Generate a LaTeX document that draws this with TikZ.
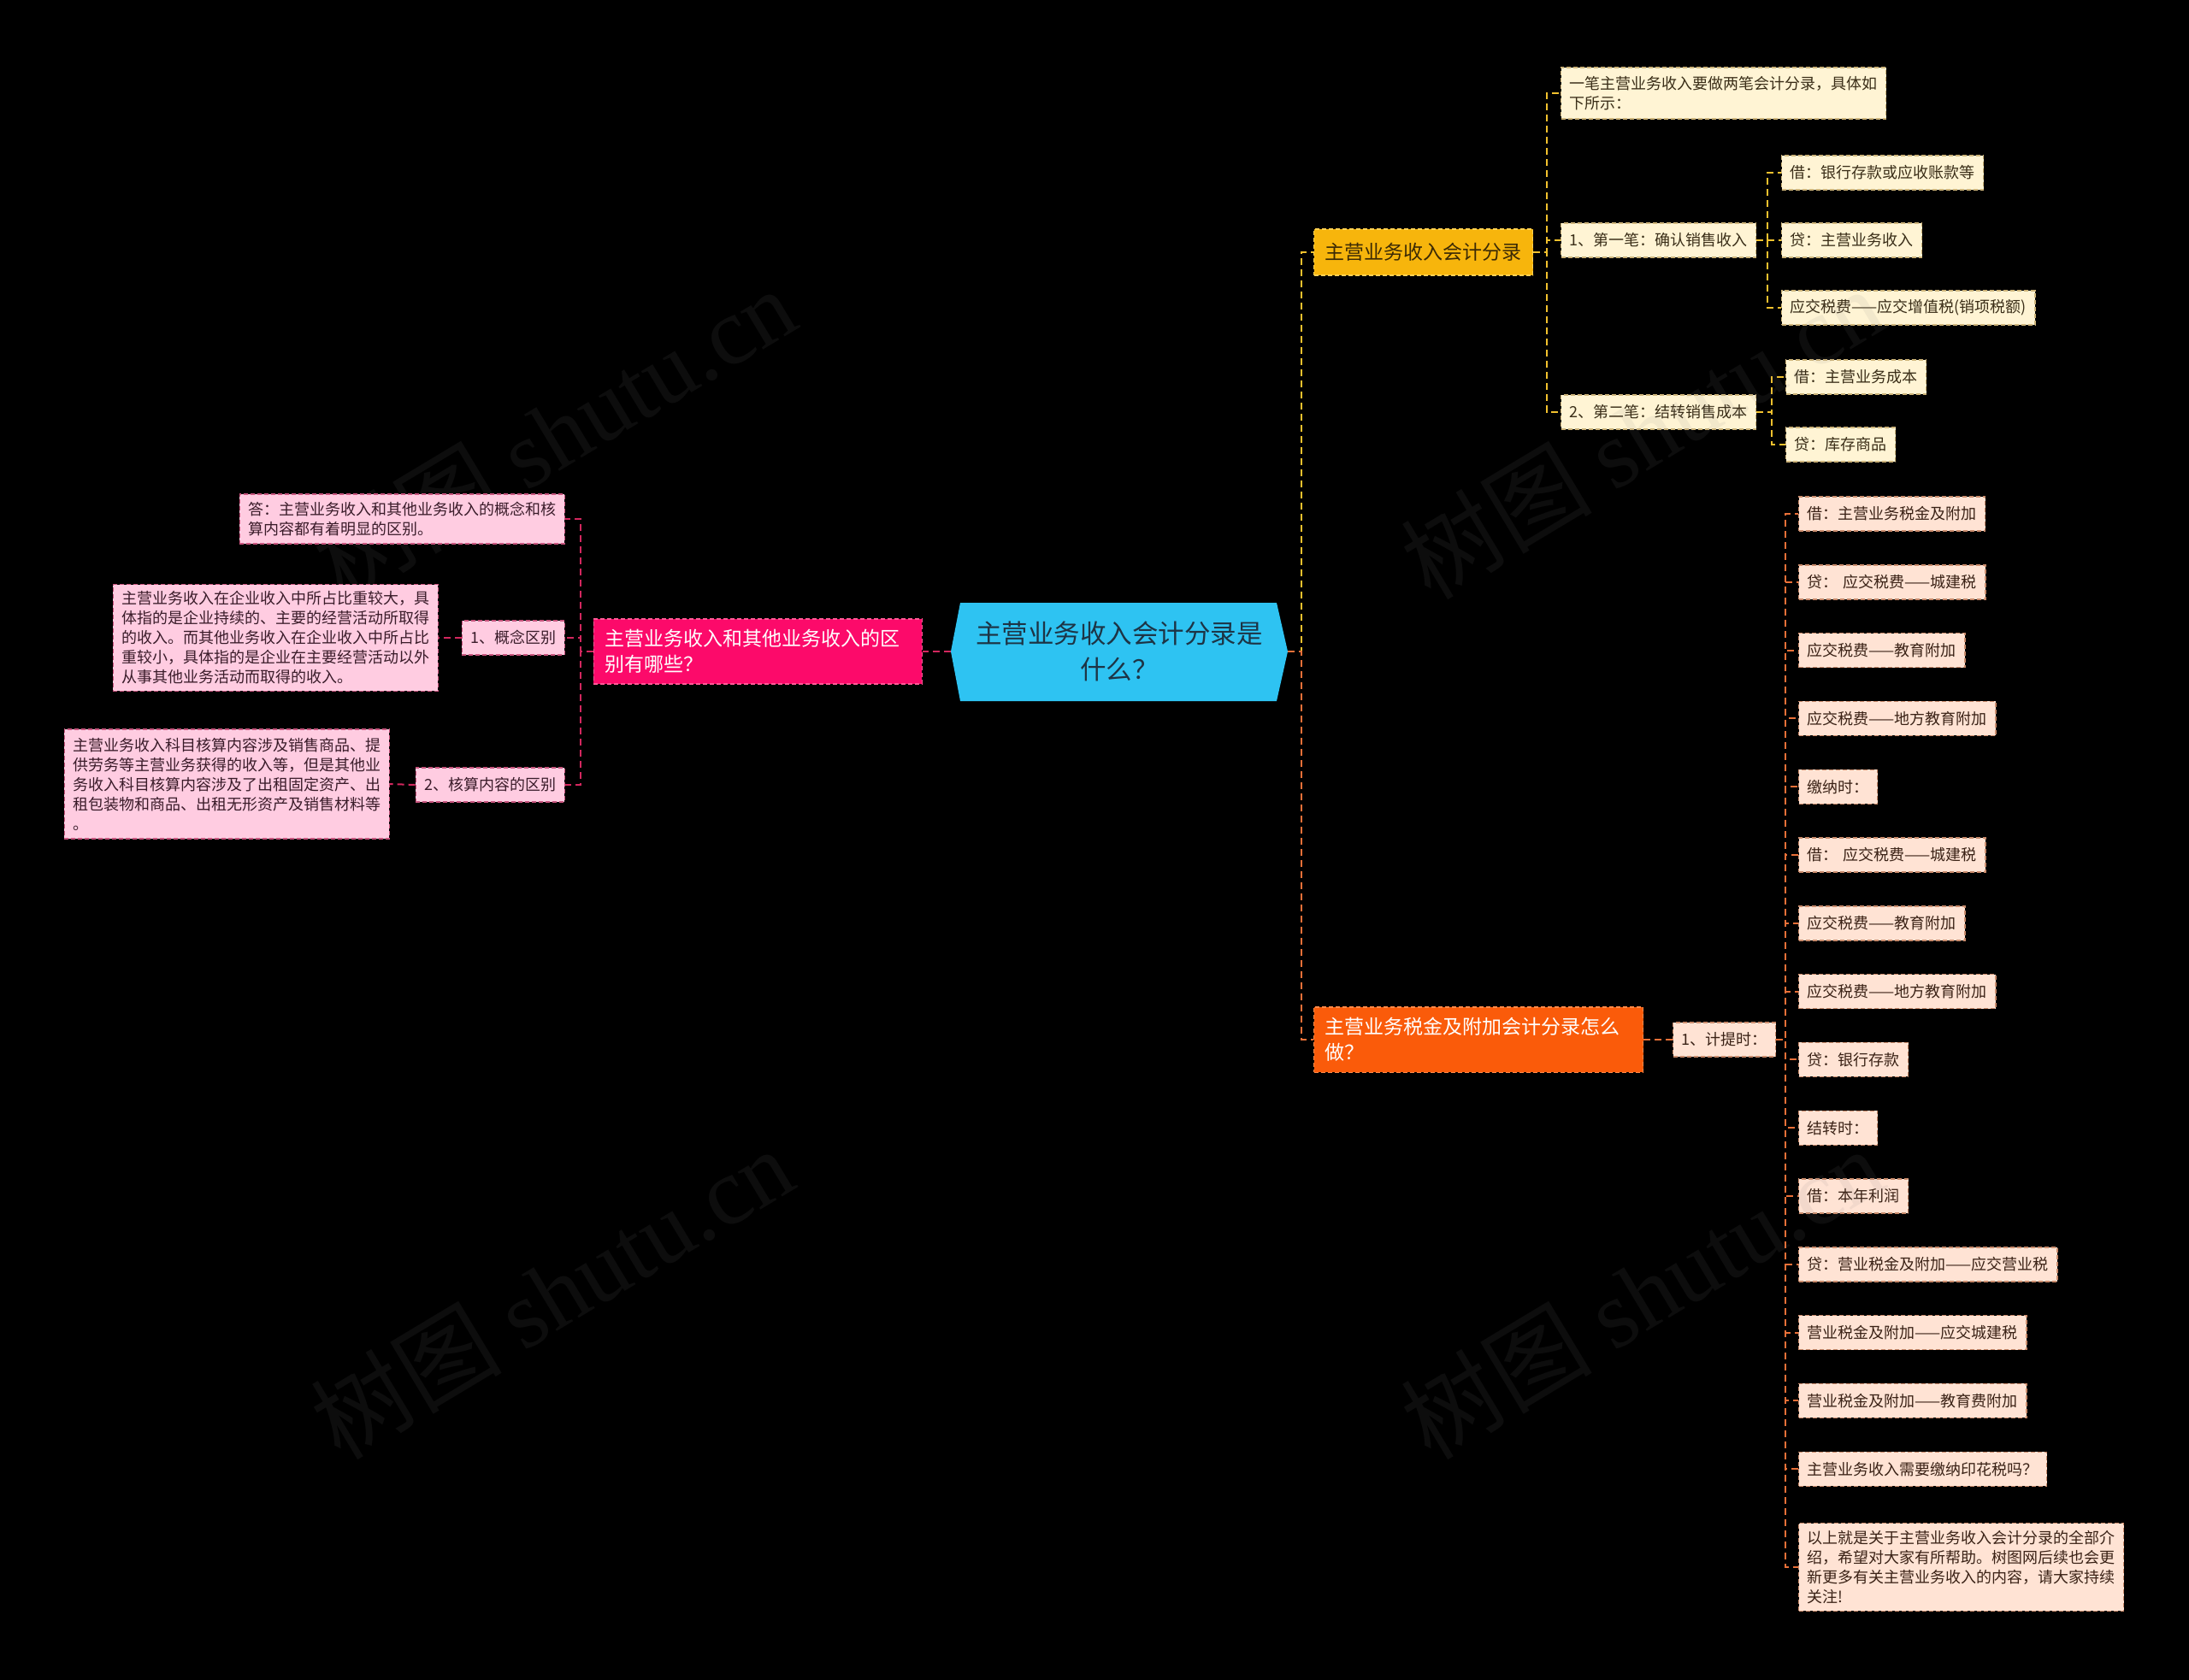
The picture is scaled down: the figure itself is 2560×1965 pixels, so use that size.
\documentclass[tikz,border=0pt]{standalone}
\usepackage{fontspec}
\setmainfont{Noto Sans CJK SC}
\newfontfamily\wmserif{Liberation Serif}
\definecolor{centerF}{HTML}{2EC3F2}
\definecolor{centerT}{HTML}{1D3445}
\definecolor{pmF}{HTML}{FC0A6A}
\definecolor{pmD}{HTML}{FF5A96}
\definecolor{pinkF}{HTML}{FFCCE1}
\definecolor{pinkD}{HTML}{C8557E}
\definecolor{pinkT}{HTML}{3A1C2A}
\definecolor{conPc}{HTML}{D2275E}
\definecolor{ambF}{HTML}{F7B50C}
\definecolor{ambD}{HTML}{FFD155}
\definecolor{ambT}{HTML}{3B2A05}
\definecolor{creamF}{HTML}{FFF4D4}
\definecolor{creamD}{HTML}{CDB47A}
\definecolor{creamT}{HTML}{3A2E18}
\definecolor{conYc}{HTML}{F2C12E}
\definecolor{orgF}{HTML}{FA5B0A}
\definecolor{orgD}{HTML}{FF8A4A}
\definecolor{peachF}{HTML}{FFE3D4}
\definecolor{peachD}{HTML}{C98B6C}
\definecolor{peachT}{HTML}{3A2216}
\definecolor{conOc}{HTML}{EA7038}
\begin{document}
\begin{tikzpicture}[x=1pt,y=-1pt,
  box/.style={rectangle, line width=1.4pt, dash pattern=on 5pt off 3pt, inner ysep=0pt},
  small/.style={font=\fontsize{18}{23}\selectfont, inner xsep=10pt, minimum height=40pt},
  big/.style={font=\fontsize{23}{30}\selectfont, inner xsep=13pt},
  multi/.style={text width=360pt, align=left},
  cream/.style={box, small, fill=creamF, draw=creamD, text=creamT, anchor=west},
  pinkl/.style={box, small, fill=pinkF, draw=pinkD, text=pinkT, anchor=east},
  peach/.style={box, small, fill=peachF, draw=peachD, text=peachT, anchor=west},
  con/.style={line width=2pt, dash pattern=on 8pt off 5pt},
  conP/.style={con, draw=conPc},
  conY/.style={con, draw=conYc},
  conO/.style={con, draw=conOc},
  wm/.style={text=gray, opacity=0.1, font=\fontsize{112}{112}\selectfont, inner sep=0pt}
]
\fill[black] (0,0) rectangle (2560,1965);
\useasboundingbox (0,0) rectangle (2560,1965);

% bus coordinates
\coordinate (cL) at (1112,762);
\coordinate (cR) at (1506,762);
\coordinate (busL) at (679,762);
\coordinate (busR) at (1522,762);
\coordinate (busB1) at (1809,295);
\coordinate (busT1) at (2067,281);
\coordinate (busT2) at (2072,482);
\coordinate (busC1) at (2088,1216);

% watermarks (drawn faintly)
\node[wm, rotate=31] (wm1) at (648,506) {树图 {\wmserif shutu.cn}};
\node[wm, rotate=31] (wm2) at (645,1512) {树图 {\wmserif shutu.cn}};

% central topic
\fill[centerF] (1123,705) -- (1493,705) -- (cR) -- (1493,820) -- (1123,820) -- (cL) -- cycle;
\node[text=centerT, font=\fontsize{30.5}{42}\selectfont, align=center, inner sep=0pt] (center) at (1309,762)
  {主营业务收入会计分录是\\什么？};

% left branch
\node[box, big, multi, text width=358pt, inner ysep=12.5pt, fill=pmF, draw=pmD, text=white, anchor=east] (pm) at (1079,762)
  {主营业务收入和其他业务收入的区\\别有哪些？};
\node[pinkl, multi, inner ysep=9pt] (L0) at (661,607)
  {答：主营业务收入和其他业务收入的概念和核\\算内容都有着明显的区别。};
\node[pinkl] (L1) at (661,746) {1、概念区别};
\node[pinkl] (L2) at (661,918) {2、核算内容的区别};
\node[pinkl, multi, inner ysep=8pt] (L1a) at (513,746)
  {主营业务收入在企业收入中所占比重较大，具\\体指的是企业持续的、主要的经营活动所取得\\的收入。而其他业务收入在企业收入中所占比\\重较小，具体指的是企业在主要经营活动以外\\从事其他业务活动而取得的收入。};
\node[pinkl, multi, inner ysep=10pt] (L2a) at (456,917)
  {主营业务收入科目核算内容涉及销售商品、提\\供劳务等主营业务获得的收入等，但是其他业\\务收入科目核算内容涉及了出租固定资产、出\\租包装物和商品、出租无形资产及销售材料等\\。};

% right top branch
\node[box, big, minimum height=54pt, fill=ambF, draw=ambD, text=ambT, anchor=west] (b1) at (1536,295) {主营业务收入会计分录};
\node[cream, multi, inner ysep=10pt] (t0) at (1825,109)
  {一笔主营业务收入要做两笔会计分录，具体如\\下所示：};
\node[cream] (t1) at (1825,281) {1、第一笔：确认销售收入};
\node[cream] (t2) at (1825,482) {2、第二笔：结转销售成本};
\node[cream] (t1a) at (2083,202) {借：银行存款或应收账款等};
\node[cream] (t1b) at (2083,281) {贷：主营业务收入};
\node[cream] (t1c) at (2083,360) {应交税费——应交增值税(销项税额)};
\node[cream] (t2a) at (2088,441) {借：主营业务成本};
\node[cream] (t2b) at (2088,520) {贷：库存商品};

% right bottom branch
\node[box, big, multi, text width=359pt, inner ysep=12.5pt, fill=orgF, draw=orgD, text=white, anchor=west] (b2) at (1536,1216)
  {主营业务税金及附加会计分录怎么\\做？};
\node[peach] (c1) at (1956,1216) {1、计提时：};
\node[peach] (d0) at (2103,601.0) {借：主营业务税金及附加};
\node[peach] (d1) at (2103,680.8) {贷：\hspace{6pt}应交税费——城建税};
\node[peach] (d2) at (2103,760.6) {应交税费——教育附加};
\node[peach] (d3) at (2103,840.4) {应交税费——地方教育附加};
\node[peach] (d4) at (2103,920.2) {缴纳时：};
\node[peach] (d5) at (2103,1000.0) {借：\hspace{6pt}应交税费——城建税};
\node[peach] (d6) at (2103,1079.8) {应交税费——教育附加};
\node[peach] (d7) at (2103,1159.6) {应交税费——地方教育附加};
\node[peach] (d8) at (2103,1239.4) {贷：银行存款};
\node[peach] (d9) at (2103,1319.2) {结转时：};
\node[peach] (d10) at (2103,1399.0) {借：本年利润};
\node[peach] (d11) at (2103,1478.8) {贷：营业税金及附加——应交营业税};
\node[peach] (d12) at (2103,1558.6) {营业税金及附加——应交城建税};
\node[peach] (d13) at (2103,1638.4) {营业税金及附加——教育费附加};
\node[peach] (d14) at (2103,1718.2) {主营业务收入需要缴纳印花税吗？};
\node[peach, multi, inner ysep=8.5pt] (d15) at (2103,1833)
  {以上就是关于主营业务收入会计分录的全部介\\绍，希望对大家有所帮助。树图网后续也会更\\新更多有关主营业务收入的内容，请大家持续\\关注!};

% connectors: left
\draw[conP] (cL) -- (pm.east);
\foreach \n in {L0,L1,L2} \draw[conP] (pm.west) -- (pm.west -| busL) |- (\n.east);
\draw[conP] (L1.west) -- (L1a.east);
\draw[conP] (L2.west) -- (L2a.east);

% connectors: right
\draw[conY] (cR) -- (busR) |- (b1.west);
\draw[conO] (cR) -- (busR) |- (b2.west);
\foreach \n in {t0,t1,t2} \draw[conY] (b1.east) -- (b1.east -| busB1) |- (\n.west);
\foreach \n in {t1a,t1b,t1c} \draw[conY] (t1.east) -- (t1.east -| busT1) |- (\n.west);
\foreach \n in {t2a,t2b} \draw[conY] (t2.east) -- (t2.east -| busT2) |- (\n.west);
\draw[conO] (b2.east) -- (c1.west);
\foreach \n in {d0,d1,d2,d3,d4,d5,d6,d7,d8,d9,d10,d11,d12,d13,d14,d15}
  \draw[conO] (c1.east) -- (c1.east -| busC1) |- (\n.west);

% watermarks on the right side (over the nodes, faint)
\node[wm, rotate=31] (wm3) at (1920,506) {树图 {\wmserif shutu.cn}};
\node[wm, rotate=31] (wm4) at (1920,1512) {树图 {\wmserif shutu.cn}};
\end{tikzpicture}
\end{document}
